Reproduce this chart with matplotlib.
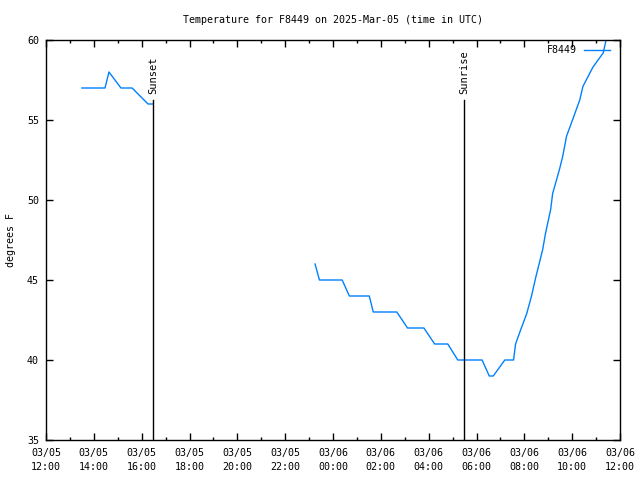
import numpy as np
import pandas as pd
import matplotlib
matplotlib.use('Agg')
import matplotlib.pyplot as plt
import matplotlib.dates as mdates

# Data (UTC), None = gap in the record
times = [
    '2025-03-05 13:30', '2025-03-05 14:28', '2025-03-05 14:38', '2025-03-05 15:08',
    '2025-03-05 15:36', '2025-03-05 16:16', '2025-03-05 16:28',
    None,
    '2025-03-05 23:15', '2025-03-05 23:26', '2025-03-06 00:23', '2025-03-06 00:41',
    '2025-03-06 01:31', '2025-03-06 01:41', '2025-03-06 02:40', '2025-03-06 03:07',
    '2025-03-06 03:48', '2025-03-06 04:15', '2025-03-06 04:48', '2025-03-06 05:13',
    '2025-03-06 06:14', '2025-03-06 06:32', '2025-03-06 06:42', '2025-03-06 07:11',
    '2025-03-06 07:33', '2025-03-06 07:38', '2025-03-06 07:51', '2025-03-06 08:06',
    '2025-03-06 08:18', '2025-03-06 08:29', '2025-03-06 08:46', '2025-03-06 08:53',
    '2025-03-06 09:06', '2025-03-06 09:11', '2025-03-06 09:28', '2025-03-06 09:36',
    '2025-03-06 09:46', '2025-03-06 09:55', '2025-03-06 10:19', '2025-03-06 10:27',
    '2025-03-06 10:52', '2025-03-06 11:18', '2025-03-06 11:25',
]
temps = [
    57, 57, 58, 57, 57, 56, 56,
    None,
    46, 45, 45, 44, 44, 43, 43, 42, 42, 41, 41, 40,
    40, 39, 39, 40, 40, 41, 41.9, 42.9, 44, 45.2, 46.9, 47.9,
    49.4, 50.4, 51.9, 52.7, 54.0, 54.6, 56.25, 57.1, 58.3, 59.2, 60,
]

sun_events = ['Sunset', 'Sunrise']
sun_times = ['2025-03-05 16:28', '2025-03-06 05:29']

station = 'F8449'
title = 'Temperature for F8449 on 2025-Mar-05 (time in UTC)'
x_start, x_end = '2025-03-05 12:00', '2025-03-06 12:00'

t = pd.to_datetime(pd.Series(times))
y = pd.Series([np.nan if v is None else v for v in temps], dtype=float)

plt.rcParams['font.family'] = ['DejaVu Sans Mono']
plt.rcParams['font.size'] = 7.2

fig = plt.figure(figsize=(6.4, 4.8), dpi=100)
ax = fig.add_axes([46 / 640, 40 / 480, 574 / 640, 400 / 480])

ax.plot(t, y, color='#0080ff', lw=1, label=station)

for name, st in zip(sun_events, sun_times):
    ts = pd.Timestamp(st)
    ax.plot([ts, ts], [35, 56.25], color='black', lw=1)
    ax.text(ts, 56.6, name, rotation=90, ha='center', va='bottom', fontsize=7.5)

ax.set_xlim(pd.Timestamp(x_start), pd.Timestamp(x_end))
ax.set_ylim(35, 60)
ax.set_yticks(range(35, 61, 5))
ax.xaxis.set_major_locator(mdates.HourLocator(byhour=range(0, 24, 2)))
ax.xaxis.set_minor_locator(mdates.HourLocator())
ax.xaxis.set_major_formatter(mdates.DateFormatter('%m/%d\n%H:%M'))
for lbl in ax.get_xticklabels():
    lbl.set_linespacing(1.45)

ax.tick_params(which='both', direction='in', top=True, right=True, width=1)
ax.tick_params(which='major', length=5, pad=6)
ax.tick_params(which='minor', length=2.5)
ax.tick_params(axis='y', pad=5)
for s in ax.spines.values():
    s.set_linewidth(1)

ax.set_title(title, fontsize=7.2, pad=12)
ax.set_ylabel('degrees F')
ax.yaxis.set_label_coords((16 - 46) / 574, 0.5)

ax.legend(loc='upper right', frameon=False, markerfirst=False,
          handlelength=2.6, handletextpad=0.75, borderaxespad=0.3,
          bbox_to_anchor=(0.995, 1.005))

fig.savefig('out.png', dpi=100)
